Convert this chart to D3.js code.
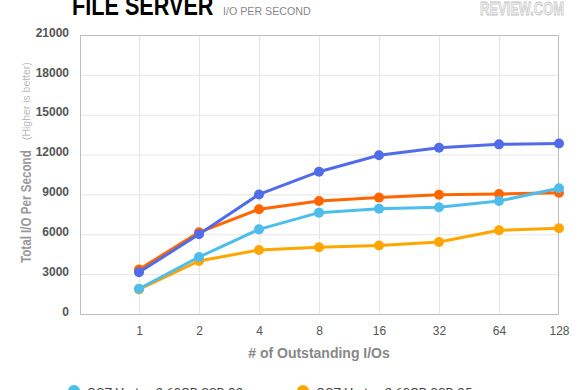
<!DOCTYPE html>
<html><head><meta charset="utf-8">
<script src="https://cdn.jsdelivr.net/npm/d3@7"></script>
<style>
html,body{margin:0;padding:0;background:#fff;}
svg{display:block;font-family:"Liberation Sans",Arial,Helvetica,sans-serif;}
</style></head>
<body>
<svg id="c" width="580" height="390"></svg>
<script>
const categories = ["1","2","4","8","16","32","64","128"];
const yTicks = [0,3000,6000,9000,12000,15000,18000,21000];
const seriesNames = ["OCZ Vertex 2 60GB SSD 25nm","OCZ Vertex 2 60GB SSD 32nm","Series C","Series D"];
const seriesColors = ["#FFA500","#4DBDEB","#FF6600","#516CE8"];
const orange25nm = [1850,3990,4820,5020,5150,5420,6300,6450];
const lightBlue32nm = [1900,4290,6370,7630,7930,8030,8500,9460];
const redSeries = [3350,6150,7880,8500,8760,8980,9030,9130];
const blueSeries = [3140,6000,9000,10710,11950,12520,12770,12830];
const seriesValues = [orange25nm, redSeries, lightBlue32nm, blueSeries];
const seriesColorOrder = ["#FFA500","#FF6600","#4DBDEB","#516CE8"];

const svg = d3.select("#c");
const pL=80, pR=559, pT=35, pB=314;
const x = d3.scaleLinear().domain([-1, categories.length-1]).range([pL-1, pR]);
const y = d3.scaleLinear().domain([0,21000]).range([pB, pT]);

// gridlines
const g = svg.append("g");
g.selectAll("line.h").data(yTicks.slice(1,-1)).join("line")
  .attr("x1",pL).attr("x2",pR).attr("y1",d=>y(d)+0.5).attr("y2",d=>y(d)+0.5)
  .attr("stroke","#e6e6e6").attr("stroke-width",1);
g.selectAll("line.v").data(categories.slice(0,-1)).join("line")
  .attr("x1",(d,i)=>x(i)+0.5).attr("x2",(d,i)=>x(i)+0.5).attr("y1",pT).attr("y2",pB)
  .attr("stroke","#e6e6e6").attr("stroke-width",1);
// border
svg.append("rect").attr("x",pL+0.5).attr("y",pT+0.5).attr("width",pR-pL-1).attr("height",pB-pT)
  .attr("fill","none").attr("stroke","#bdbdbd").attr("stroke-width",1);

// y axis
const ya = svg.append("g").attr("transform",`translate(${pL-11},0)`)
  .call(d3.axisLeft(y).tickValues(yTicks).tickSize(0).tickPadding(0).tickFormat(d3.format("d")));
ya.select(".domain").remove();
ya.selectAll("text").attr("fill","#555").attr("font-size","12px").attr("font-weight","bold")
  .attr("font-family","'Liberation Sans',Arial,sans-serif").attr("dy","0.1em");

// x axis
const xa = svg.append("g").attr("transform",`translate(0,${pB})`)
  .call(d3.axisBottom(x).tickValues(d3.range(categories.length)).tickSize(0).tickPadding(12).tickFormat(i=>categories[i]));
xa.select(".domain").remove();
xa.selectAll("text").attr("fill","#555").attr("font-size","12px")
  .attr("font-family","'Liberation Sans',Arial,sans-serif");

// axis titles
svg.append("text").attr("x",319).attr("y",358).attr("text-anchor","middle")
  .attr("fill","#888").attr("font-size","14px").attr("font-weight","bold")
  .text("# of Outstanding I/Os");
svg.append("text").attr("transform","translate(31,263) rotate(-90) scale(0.83,1)")
  .attr("fill","#999").attr("font-size","14px").attr("font-weight","bold")
  .text("Total I/O Per Second");
svg.append("text").attr("transform","translate(30,140) rotate(-90) scale(0.95,1)")
  .attr("fill","#bbb").attr("font-size","11px")
  .text("(Higher is better)");

// series
const line = d3.line().x((d,i)=>x(i)).y(d=>y(d));
seriesValues.forEach((vals,k)=>{
  const col = seriesColorOrder[k];
  svg.append("path").datum(vals).attr("d",line).attr("fill","none")
    .attr("stroke",col).attr("stroke-width",3).attr("stroke-linejoin","round");
  svg.append("g").selectAll("circle").data(vals).join("circle")
    .attr("cx",(d,i)=>x(i)).attr("cy",d=>y(d)).attr("r",5).attr("fill",col);
});

// title
svg.append("text").attr("transform","translate(72,15) scale(0.773,1)").attr("font-size","28px").attr("font-weight","bold")
  .attr("fill","#000").text("FILE SERVER");
svg.append("text").attr("transform","translate(223,15) scale(0.97,1)").attr("font-size","11px")
  .attr("fill","#888").text("I/O PER SECOND");
// logo
svg.append("text").attr("transform","translate(480,15) scale(0.68,1)").attr("font-size","19px")
  .attr("font-weight","bold").attr("fill","#f2f2f2").attr("stroke","#c4c4c4").attr("stroke-width",0.8)
  .text("REVIEW.COM");

// legend (visible row)
const legendItems = [{name:seriesNames[1],color:seriesColors[1],x:74},{name:seriesNames[0],color:seriesColors[0],x:303}];
const lg = svg.append("g").selectAll("g").data(legendItems).join("g");
lg.append("circle").attr("cx",d=>d.x).attr("cy",391).attr("r",6).attr("fill",d=>d.color);
lg.append("text").attr("x",d=>d.x+13).attr("y",397).attr("font-size","13px").attr("fill","#444")
  .attr("font-family","Roboto,'Liberation Sans',sans-serif").text(d=>d.name);
</script>
</body></html>
